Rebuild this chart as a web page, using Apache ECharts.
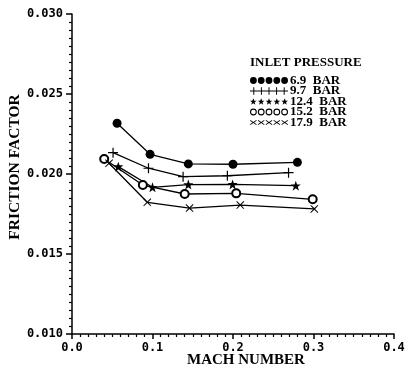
<!DOCTYPE html>
<html><head><meta charset="utf-8">
<script src="https://cdn.jsdelivr.net/npm/echarts@6/dist/echarts.min.js"></script>
<style>html,body{margin:0;padding:0;background:#fff}#c{width:407px;height:372px}</style>
</head><body><div id="c"></div>
<script>
const seriesNames = ['6.9  BAR', '9.7  BAR', '12.4  BAR', '15.2  BAR', '17.9  BAR'];
const mach69 = [0.056, 0.097, 0.1445, 0.200, 0.280];
const ff69 = [0.02317, 0.02123, 0.02063, 0.02061, 0.02073];
const mach97 = [0.051, 0.095, 0.138, 0.193, 0.269];
const ff97 = [0.02133, 0.02036, 0.01983, 0.01989, 0.02008];
const mach124 = [0.0575, 0.100, 0.1445, 0.1995, 0.278];
const ff124 = [0.02046, 0.01917, 0.01934, 0.01935, 0.01927];
const mach152 = [0.040, 0.088, 0.140, 0.204, 0.299];
const ff152 = [0.02094, 0.01931, 0.01875, 0.01879, 0.01842];
const mach179 = [0.046, 0.0935, 0.146, 0.209, 0.301];
const ff179 = [0.02067, 0.01823, 0.01787, 0.01806, 0.01782];
const yTicks = ['0.010', '0.015', '0.020', '0.025', '0.030'];
const xTicks = ['0.0', '0.1', '0.2', '0.3', '0.4'];
const xTitle = 'MACH NUMBER';
const yTitle = 'FRICTION FACTOR';
const legendTitle = 'INLET PRESSURE';

const pairs = (xs, ys) => xs.map((x, i) => [x, ys[i]]);
const plusPath = 'path://M-0.6,-5L0.6,-5L0.6,-0.6L5,-0.6L5,0.6L0.6,0.6L0.6,5L-0.6,5L-0.6,0.6L-5,0.6L-5,-0.6L-0.6,-0.6Z';
const xPath = 'path://M-4.2,-5L0,-1.0L4.2,-5L5,-4.2L1.0,0L5,4.2L4.2,5L0,1.0L-4.2,5L-5,4.2L-1.0,0L-5,-4.2Z';
const starPath = 'path://M0,-5L1.2,-1.6L4.8,-1.6L1.9,0.6L3,4.2L0,2L-3,4.2L-1.9,0.6L-4.8,-1.6L-1.2,-1.6Z';
const markers = [
  {symbol: 'circle', size: 9, empty: false},
  {symbol: plusPath, size: 10, empty: false},
  {symbol: starPath, size: 10, empty: false},
  {symbol: 'emptyCircle', size: 8, empty: true},
  {symbol: xPath, size: 8, empty: false}
];
const datas = [pairs(mach69, ff69), pairs(mach97, ff97), pairs(mach124, ff124), pairs(mach152, ff152), pairs(mach179, ff179)];

function repeatPath(kind) {
  let d = '';
  for (let i = 0; i < 5; i++) {
    const cx = i * 8 + 4, cy = 4;
    if (kind === 0) d += `M${cx-3.5},${cy}A3.5,3.5 0 1 0 ${cx+3.5},${cy}A3.5,3.5 0 1 0 ${cx-3.5},${cy}Z`;
    if (kind === 1) d += `M${cx-0.5},${cy-4}L${cx+0.5},${cy-4}L${cx+0.5},${cy-0.5}L${cx+4},${cy-0.5}L${cx+4},${cy+0.5}L${cx+0.5},${cy+0.5}L${cx+0.5},${cy+4}L${cx-0.5},${cy+4}L${cx-0.5},${cy+0.5}L${cx-4},${cy+0.5}L${cx-4},${cy-0.5}L${cx-0.5},${cy-0.5}Z`;
    if (kind === 2) d += `M${cx},${cy-3.5}L${cx+1},${cy-1.1}L${cx+3.4},${cy-1.1}L${cx+1.4},${cy+0.5}L${cx+2.1},${cy+3}L${cx},${cy+1.5}L${cx-2.1},${cy+3}L${cx-1.4},${cy+0.5}L${cx-3.4},${cy-1.1}L${cx-1},${cy-1.1}Z`;
    if (kind === 3) d += `M${cx-3.5},${cy}A3.5,3.5 0 1 0 ${cx+3.5},${cy}A3.5,3.5 0 1 0 ${cx-3.5},${cy}ZM${cx-2.4},${cy}A2.4,2.4 0 1 1 ${cx+2.4},${cy}A2.4,2.4 0 1 1 ${cx-2.4},${cy}Z`;
    if (kind === 4) d += `M${cx-3},${cy-2.5}L${cx},${cy-0.6}L${cx+3},${cy-2.5}L${cx+3.4},${cy-1.9}L${cx+0.8},${cy}L${cx+3.4},${cy+1.9}L${cx+3},${cy+2.5}L${cx},${cy+0.6}L${cx-3},${cy+2.5}L${cx-3.4},${cy+1.9}L${cx-0.8},${cy}L${cx-3.4},${cy-1.9}Z`;
  }
  return 'path://' + d;
}

const chart = echarts.init(document.getElementById('c'), null, {renderer: 'canvas'});
const monoFont = 'DejaVu Sans Mono';
const serifFont = 'Liberation Serif';
chart.setOption({
  animation: false,
  backgroundColor: '#fff',
  grid: {left: 72, right: 13, top: 14, bottom: 38, containLabel: false, outerBoundsMode: 'none'},
  xAxis: {
    type: 'value', min: 0, max: 0.4, interval: 0.1,
    axisLine: {show: true, lineStyle: {color: '#000', width: 1.5}},
    axisTick: {show: true, inside: false, length: 5, lineStyle: {color: '#000', width: 1.5}},
    minorTick: {show: true, splitNumber: 10, length: 3, lineStyle: {color: '#000', width: 1.2}},
    splitLine: {show: false},
    axisLabel: {margin: 8, fontFamily: monoFont, fontWeight: 'bold', fontSize: 12, color: '#000',
      formatter: (v) => xTicks[Math.round(v * 10)]}
  },
  yAxis: {
    type: 'value', min: 0.010, max: 0.030, interval: 0.005,
    axisLine: {show: true, lineStyle: {color: '#000', width: 1.5}},
    axisTick: {show: true, inside: false, length: 6, lineStyle: {color: '#000', width: 1.5}},
    minorTick: {show: true, splitNumber: 10, length: 3, lineStyle: {color: '#000', width: 1.2}},
    splitLine: {show: false},
    axisLabel: {margin: 9, fontFamily: monoFont, fontWeight: 'bold', fontSize: 12, color: '#000',
      formatter: (v) => yTicks[Math.round((v - 0.010) / 0.005)]}
  },
  legend: {
    show: true, orient: 'vertical', left: 250, top: 74, itemGap: -2.5, padding: 0,
    itemWidth: 38, itemHeight: 8,
    textStyle: {fontFamily: serifFont, fontWeight: 'bold', fontSize: 13, color: '#000', padding: [0, 0, 0, -3]},
    data: seriesNames.map((n, i) => ({name: n, icon: repeatPath(i), itemStyle: {color: '#000', borderWidth: 0}}))
  },
  graphic: [
    {type: 'text', left: 250, top: 56,
      style: {text: legendTitle, fontFamily: serifFont, fontWeight: 'bold', fontSize: 13, fill: '#000'}},
    {type: 'text', x: 15, y: 167, rotation: Math.PI / 2,
      style: {text: yTitle, fontFamily: serifFont, fontWeight: 'bold', fontSize: 15.5, fill: '#000', align: 'center', verticalAlign: 'middle'}},
    {type: 'text', x: 246, y: 360,
      style: {text: xTitle, fontFamily: serifFont, fontWeight: 'bold', fontSize: 15, fill: '#000', align: 'center', verticalAlign: 'middle'}}
  ],
  series: datas.map((d, i) => ({
    name: seriesNames[i], type: 'line', data: d,
    symbol: markers[i].symbol, symbolSize: markers[i].size, showAllSymbol: true,
    lineStyle: {color: '#000', width: 1.3},
    itemStyle: markers[i].empty ? {color: '#000', borderColor: '#000', borderWidth: 1.6} : {color: '#000', borderColor: '#000', borderWidth: 0},
    emphasis: {disabled: true}
  }))
});
</script></body></html>
